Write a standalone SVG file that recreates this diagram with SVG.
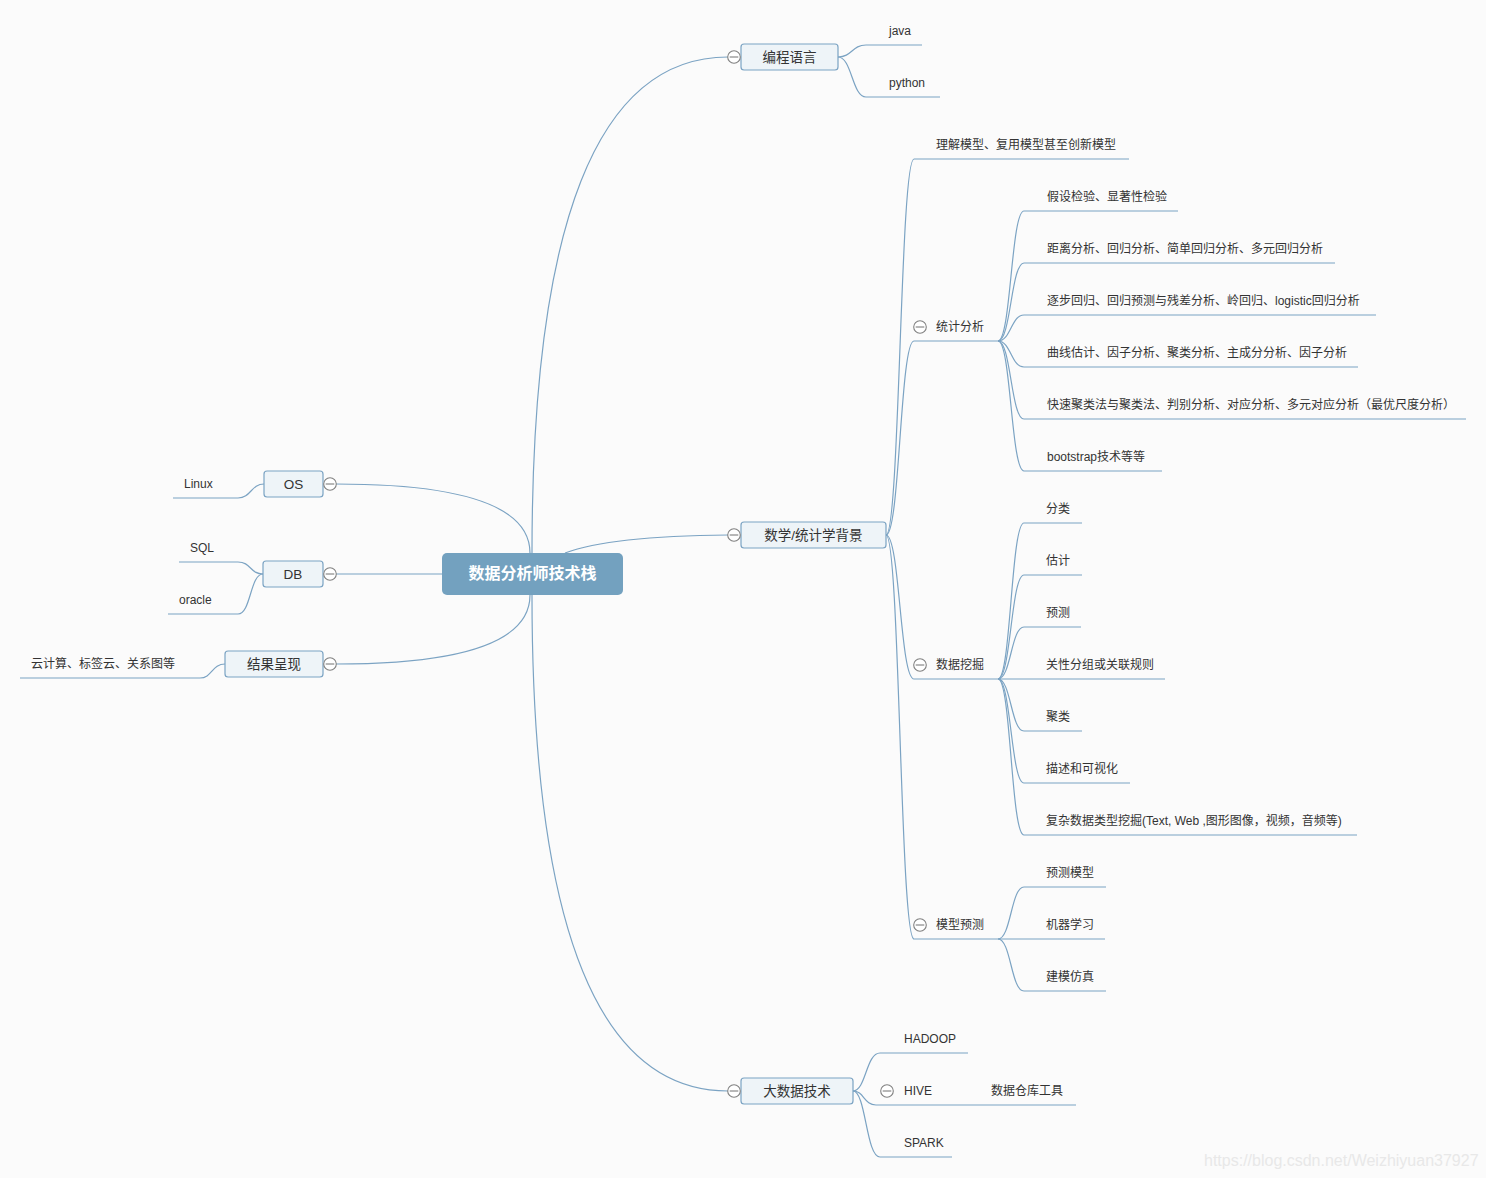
<svg xmlns="http://www.w3.org/2000/svg" width="1486" height="1178" viewBox="0 0 1486 1178">
<style>
.ln{fill:none;stroke:#7ba3c3;stroke-width:1.2}
.t{font-family:"Liberation Sans","Noto Sans CJK SC",sans-serif;font-size:12px;fill:#333}
.nt{font-family:"Liberation Sans","Noto Sans CJK SC",sans-serif;font-size:13.5px;fill:#333;text-anchor:middle}
.box{fill:#eef4f8;stroke:#7ba3c3;stroke-width:1.2}
.cc{fill:#fff;stroke:#808080;stroke-width:1.1}
.cm{stroke:#707070;stroke-width:1}
</style>
<defs>
<g id="col"><circle class="cc" r="6.3"/><line class="cm" x1="-4.3" y1="0" x2="4.3" y2="0"/></g>
</defs>
<rect width="1486" height="1178" fill="#fbfbfb"/>
<g id="connectors">
<path class="ln" d="M532 553 Q532 57 728 57"/>
<path class="ln" d="M532 595 Q532 1091 728 1091"/>
<path class="ln" d="M565 553 Q610 536 728 535"/>
<path class="ln" d="M336 484 Q530 484 530 553"/>
<path class="ln" d="M336 574 H442"/>
<path class="ln" d="M336 664 Q530 664 530 595"/>
<path class="ln" d="M838 57 C852 57 852 45 866 45 H922"/>
<path class="ln" d="M838 57 C852 57 852 97 866 97 H940"/>
<path class="ln" d="M886 535 C900 535 900 159 914 159 H1129"/>
<path class="ln" d="M886 535 C900 535 900 341 914 341 H998"/>
<path class="ln" d="M886 535 C900 535 900 679 914 679 H998"/>
<path class="ln" d="M886 535 C900 535 900 939 914 939 H998"/>
<path class="ln" d="M998 341 C1011 341 1011 211 1024 211 H1178"/>
<path class="ln" d="M998 341 C1011 341 1011 263 1024 263 H1335"/>
<path class="ln" d="M998 341 C1011 341 1011 315 1024 315 H1376"/>
<path class="ln" d="M998 341 C1011 341 1011 367 1024 367 H1358"/>
<path class="ln" d="M998 341 C1011 341 1011 419 1024 419 H1466"/>
<path class="ln" d="M998 341 C1011 341 1011 471 1024 471 H1162"/>
<path class="ln" d="M998 679 C1011 679 1011 523 1024 523 H1082"/>
<path class="ln" d="M998 679 C1011 679 1011 575 1024 575 H1082"/>
<path class="ln" d="M998 679 C1011 679 1011 627 1024 627 H1081"/>
<path class="ln" d="M998 679 H1165"/>
<path class="ln" d="M998 679 C1011 679 1011 731 1024 731 H1082"/>
<path class="ln" d="M998 679 C1011 679 1011 783 1024 783 H1130"/>
<path class="ln" d="M998 679 C1011 679 1011 835 1024 835 H1357"/>
<path class="ln" d="M998 939 C1011 939 1011 887 1024 887 H1106"/>
<path class="ln" d="M998 939 H1105"/>
<path class="ln" d="M998 939 C1011 939 1011 991 1024 991 H1106"/>
<path class="ln" d="M853 1091 C866 1091 866 1053 880 1053 H968"/>
<path class="ln" d="M853 1091 C864 1091 864 1105 876 1105 H1076"/>
<path class="ln" d="M853 1091 C866 1091 866 1157 880 1157 H952"/>
<path class="ln" d="M173 498 H238 C251 498 251 484 264 484"/>
<path class="ln" d="M179 562 H238 C251 562 250 574 263 574"/>
<path class="ln" d="M168 614 H238 C251 614 250 574 263 574"/>
<path class="ln" d="M20 678 H200 C212 678 212 664 225 664"/>
</g>
<g id="root">
<rect x="442" y="553" width="181" height="42" rx="5" fill="#73a1bf"/>
<text x="532.5" y="579" font-family="'Liberation Sans','Noto Sans CJK SC',sans-serif" font-size="16" font-weight="bold" fill="#fff" text-anchor="middle">数据分析师技术栈</text>
</g>
<g id="n-biancheng">
<rect class="box" x="741" y="44" width="97" height="26" rx="3"/>
<text class="nt" x="789.5" y="62">编程语言</text>
<use href="#col" x="734" y="57"/>
</g>
<g id="n-java"><text class="t" x="889" y="35">java</text></g>
<g id="n-python"><text class="t" x="889" y="87">python</text></g>
<g id="n-shuxue">
<rect class="box" x="741" y="522" width="145" height="26" rx="3"/>
<text class="nt" x="813.5" y="540">数学/统计学背景</text>
<use href="#col" x="734" y="535"/>
</g>
<g id="n-lijie"><text class="t" x="936" y="149">理解模型、复用模型甚至创新模型</text></g>
<g id="n-tongji"><use href="#col" x="920" y="327"/><text class="t" x="936" y="331">统计分析</text></g>
<g id="n-s1"><text class="t" x="1047" y="201">假设检验、显著性检验</text></g>
<g id="n-s2"><text class="t" x="1047" y="253">距离分析、回归分析、简单回归分析、多元回归分析</text></g>
<g id="n-s3"><text class="t" x="1047" y="305">逐步回归、回归预测与残差分析、岭回归、logistic回归分析</text></g>
<g id="n-s4"><text class="t" x="1047" y="357">曲线估计、因子分析、聚类分析、主成分分析、因子分析</text></g>
<g id="n-s5"><text class="t" x="1047" y="409">快速聚类法与聚类法、判别分析、对应分析、多元对应分析（最优尺度分析）</text></g>
<g id="n-s6"><text class="t" x="1047" y="461">bootstrap技术等等</text></g>
<g id="n-wajue"><use href="#col" x="920" y="665"/><text class="t" x="936" y="669">数据挖掘</text></g>
<g id="n-d1"><text class="t" x="1046" y="513">分类</text></g>
<g id="n-d2"><text class="t" x="1046" y="565">估计</text></g>
<g id="n-d3"><text class="t" x="1046" y="617">预测</text></g>
<g id="n-d4"><text class="t" x="1046" y="669">关性分组或关联规则</text></g>
<g id="n-d5"><text class="t" x="1046" y="721">聚类</text></g>
<g id="n-d6"><text class="t" x="1046" y="773">描述和可视化</text></g>
<g id="n-d7"><text class="t" x="1046" y="825">复杂数据类型挖掘(Text, Web ,图形图像，视频，音频等)</text></g>
<g id="n-moxing"><use href="#col" x="920" y="925"/><text class="t" x="936" y="929">模型预测</text></g>
<g id="n-m1"><text class="t" x="1046" y="877">预测模型</text></g>
<g id="n-m2"><text class="t" x="1046" y="929">机器学习</text></g>
<g id="n-m3"><text class="t" x="1046" y="981">建模仿真</text></g>
<g id="n-dashuju">
<rect class="box" x="741" y="1078" width="112" height="26" rx="3"/>
<text class="nt" x="797" y="1096">大数据技术</text>
<use href="#col" x="734" y="1091"/>
</g>
<g id="n-hadoop"><text class="t" x="904" y="1043">HADOOP</text></g>
<g id="n-hive"><use href="#col" x="887" y="1091"/><text class="t" x="904" y="1095">HIVE</text></g>
<g id="n-cangku"><text class="t" x="991" y="1095">数据仓库工具</text></g>
<g id="n-spark"><text class="t" x="904" y="1147">SPARK</text></g>
<g id="n-os">
<rect class="box" x="264" y="471" width="59" height="26" rx="3"/>
<text class="nt" x="293.5" y="489" font-size="14">OS</text>
<use href="#col" x="330" y="484"/>
</g>
<g id="n-linux"><text class="t" x="184" y="488">Linux</text></g>
<g id="n-db">
<rect class="box" x="263" y="561" width="60" height="26" rx="3"/>
<text class="nt" x="293" y="579" font-size="14">DB</text>
<use href="#col" x="330" y="574"/>
</g>
<g id="n-sql"><text class="t" x="190" y="552">SQL</text></g>
<g id="n-oracle"><text class="t" x="179" y="604">oracle</text></g>
<g id="n-jieguo">
<rect class="box" x="225" y="651" width="98" height="26" rx="3"/>
<text class="nt" x="274" y="669">结果呈现</text>
<use href="#col" x="330" y="664"/>
</g>
<g id="n-yun"><text class="t" x="31" y="668">云计算、标签云、关系图等</text></g>
<text x="1204" y="1166" font-family="'Liberation Sans',sans-serif" font-size="16" fill="#e8e8e8">https://blog.csdn.net/Weizhiyuan37927</text>
</svg>
